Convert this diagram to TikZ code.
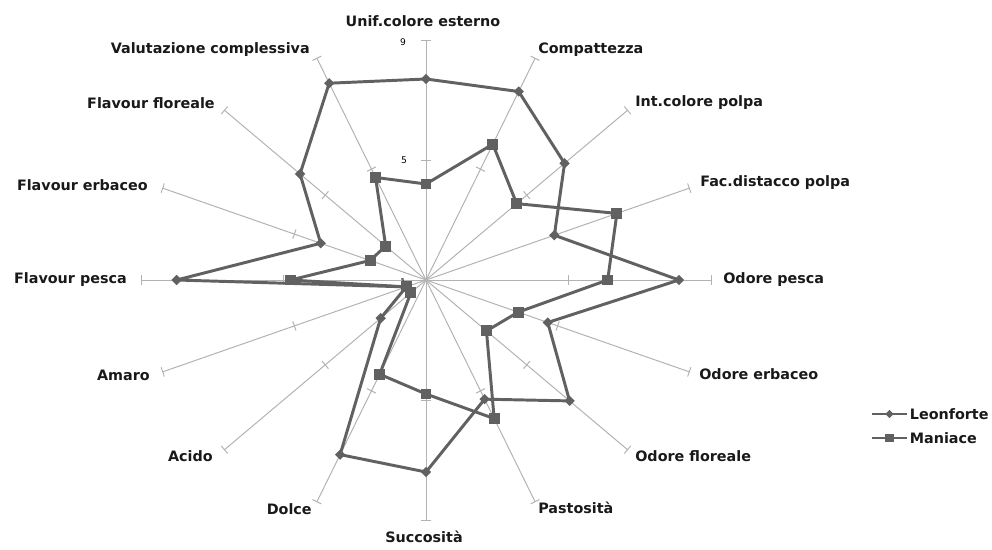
\documentclass[tikz,border=0pt]{standalone}
\usepackage{fontspec}
\setmainfont{DejaVu Sans}
\usetikzlibrary{calc,shapes.geometric}
\tikzset{font=\bfseries\fontsize{10.2}{12}\selectfont}
\tikzstyle{asse}=[draw=black!30,line width=0.7pt]
\tikzstyle{serie}=[draw=black!62,line width=2.1pt,line join=round]
\tikzstyle{rombo}=[diamond,fill=black!62,inner sep=0pt,minimum size=7.5pt]
\tikzstyle{quadro}=[rectangle,fill=black!62,inner sep=0pt,minimum size=7.8pt]
\tikzstyle{voce}=[inner sep=0pt,text=black!90]
\tikzstyle{scala}=[inner sep=0pt,font=\fontsize{6.5}{7}\selectfont]

\begin{document}
\begin{tikzpicture}[x=0.025cm,y=-0.025cm]
\useasboundingbox (0,0) rectangle (992,550);
\coordinate (o) at (426,280);
% assi e tacche
\foreach \i in {0,...,15}{
  \pgfmathsetmacro\a{90-22.5*\i}
  \coordinate (e\i) at ({426+285*cos(\a)},{280-240*sin(\a)});
  \coordinate (m\i) at ({426+142.5*cos(\a)},{280-120*sin(\a)});
  \draw[asse] (o) -- (e\i);
  \draw[asse] ($(e\i)!3.5pt!90:(o)$) -- ($(e\i)!3.5pt!-90:(o)$);
  \draw[asse] ($(m\i)!3.5pt!90:(o)$) -- ($(m\i)!3.5pt!-90:(o)$);
}
\node[scala] (s9) at (403,42) {9};
\node[scala] (s5) at (404,160) {5};
\node[scala] (s1) at (403,282) {1};
% etichette
\node[voce] (unif) at (423,21) {Unif.colore esterno};
\node[voce,anchor=west] (comp) at (538,50) {Compattezza};
\node[voce,anchor=west] (intc) at (635,103) {Int.colore polpa};
\node[voce,anchor=west] (facd) at (700,183) {Fac.distacco polpa};
\node[voce,anchor=west] (odpe) at (723,280) {Odore pesca};
\node[voce,anchor=west] (oder) at (699,374) {Odore erbaceo};
\node[voce,anchor=west] (odfl) at (635,456) {Odore floreale};
\node[voce,anchor=west] (past) at (538,508) {Pastosità};
\node[voce] (succ) at (424,537) {Succosità};
\node[voce,anchor=east] (dolc) at (312,509) {Dolce};
\node[voce,anchor=east] (acid) at (213,456) {Acido};
\node[voce,anchor=east] (amar) at (150,375) {Amaro};
\node[voce,anchor=east] (flpe) at (127,280) {Flavour pesca};
\node[voce,anchor=east] (fler) at (148,185) {Flavour erbaceo};
\node[voce,anchor=east] (flfl) at (215,103) {Flavour floreale};
\node[voce,anchor=east] (valu) at (310,50) {Valutazione complessiva};
% serie
\foreach \v [count=\i from 0] in {7.7,7.8,6.5,4.9,8.1,4.7,6.7,5.3,7.4,7.3,2.8,1.6,8.0,4.2,6.0,8.1}{
  \pgfmathsetmacro\a{90-22.5*\i}
  \pgfmathsetmacro\f{(\v-1)/8}
  \coordinate (le\i) at ({426+285*\f*cos(\a)},{280-240*\f*sin(\a)});
}
\foreach \v [count=\i from 0] in {4.2,5.9,4.6,6.8,6.1,3.8,3.4,6.0,4.8,4.4,1.6,1.6,4.8,2.7,2.6,4.7}{
  \pgfmathsetmacro\a{90-22.5*\i}
  \pgfmathsetmacro\f{(\v-1)/8}
  \coordinate (ma\i) at ({426+285*\f*cos(\a)},{280-240*\f*sin(\a)});
}
\draw[serie] (le0) \foreach \i in {1,...,15}{-- (le\i)} -- cycle;
\foreach \i in {0,...,15} \node[rombo] at (le\i) {};
\draw[serie] (ma0) \foreach \i in {1,...,15}{-- (ma\i)} -- cycle;
\foreach \i in {0,...,15} \node[quadro] at (ma\i) {};
% legenda
\coordinate (l1a) at (872,414);
\coordinate (l1b) at (907,414);
\coordinate (l2a) at (872,438);
\coordinate (l2b) at (907,438);
\draw[serie] (l1a) -- (l1b) node[voce,anchor=west,xshift=1pt] (leon) {Leonforte};
\node[rombo,minimum size=6pt] at ($(l1a)!0.5!(l1b)$) {};
\draw[serie] (l2a) -- (l2b) node[voce,anchor=west,xshift=1pt] (mani) {Maniace};
\node[quadro,minimum size=6pt] at ($(l2a)!0.5!(l2b)$) {};
\end{tikzpicture}
\end{document}
